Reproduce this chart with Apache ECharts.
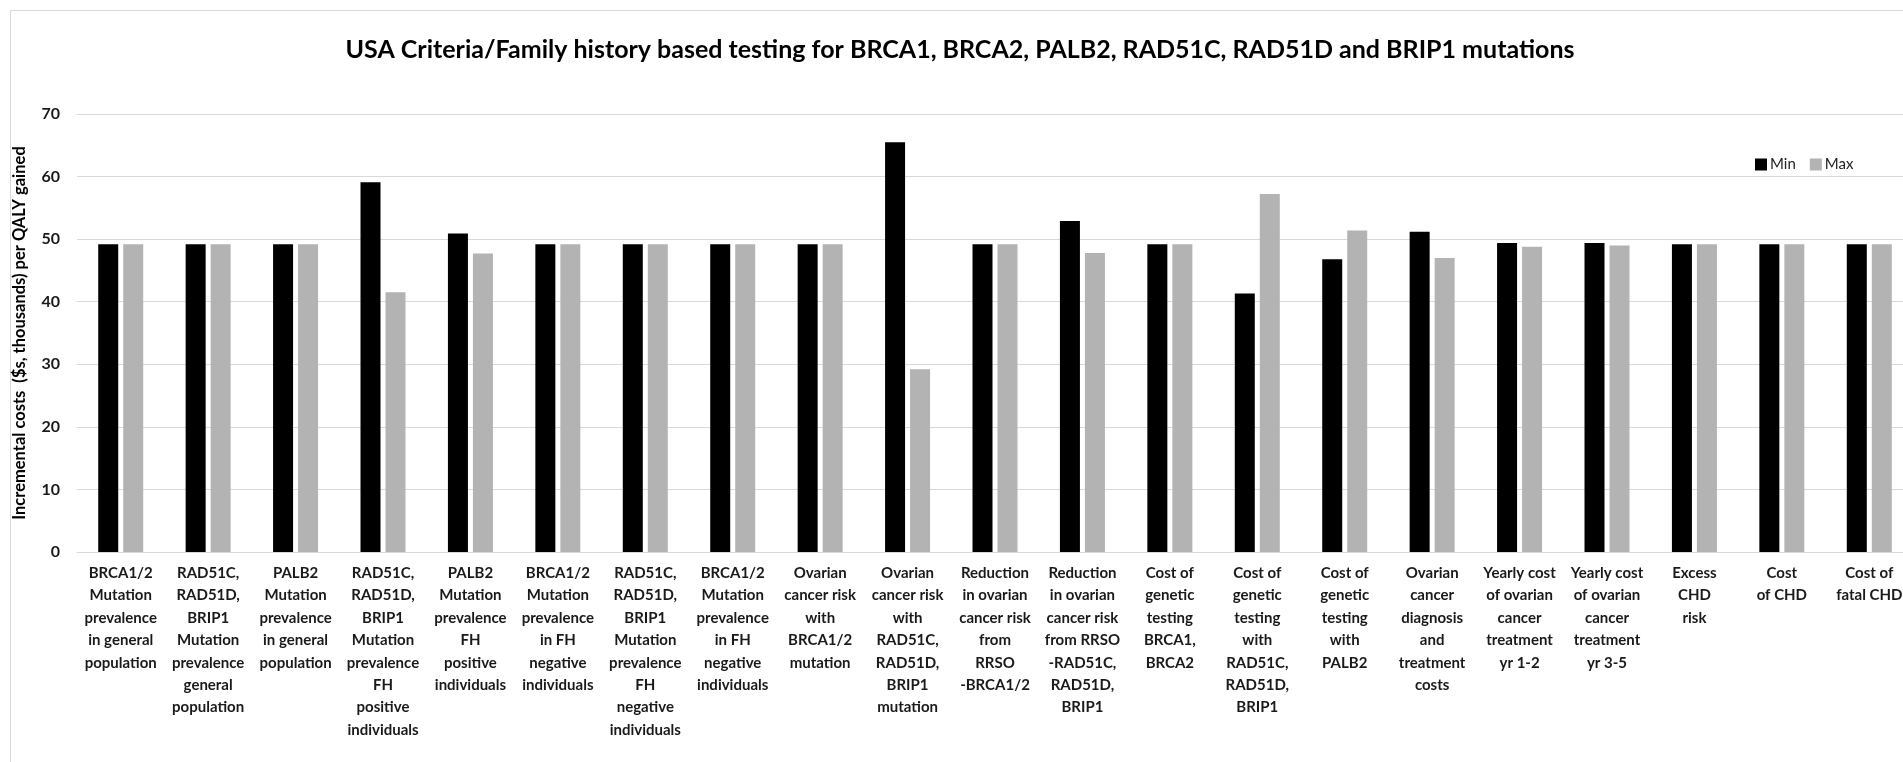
<!DOCTYPE html>
<html>
<head>
<meta charset="utf-8">
<script src="https://cdn.jsdelivr.net/npm/echarts@6/dist/echarts.min.js"></script>
<style>
  html, body { margin: 0; padding: 0; overflow: hidden; background: #fff; }
  #chart { width: 1930px; height: 762px; }
</style>
</head>
<body>
<div id="chart"></div>
<script>
// categories (line breaks as in the original chart)
var categories = [
  'BRCA1/2\nMutation\nprevalence\nin general\npopulation',
  'RAD51C,\nRAD51D,\nBRIP1\nMutation\nprevalence\ngeneral\npopulation',
  'PALB2\nMutation\nprevalence\nin general\npopulation',
  'RAD51C,\nRAD51D,\nBRIP1\nMutation\nprevalence\nFH\npositive\nindividuals',
  'PALB2\nMutation\nprevalence\nFH\npositive\nindividuals',
  'BRCA1/2\nMutation\nprevalence\nin FH\nnegative\nindividuals',
  'RAD51C,\nRAD51D,\nBRIP1\nMutation\nprevalence\nFH\nnegative\nindividuals',
  'BRCA1/2\nMutation\nprevalence\nin FH\nnegative\nindividuals',
  'Ovarian\ncancer risk\nwith\nBRCA1/2\nmutation',
  'Ovarian\ncancer risk\nwith\nRAD51C,\nRAD51D,\nBRIP1\nmutation',
  'Reduction\nin ovarian\ncancer risk\nfrom\nRRSO\n-BRCA1/2',
  'Reduction\nin ovarian\ncancer risk\nfrom RRSO\n-RAD51C,\nRAD51D,\nBRIP1',
  'Cost of\ngenetic\ntesting\nBRCA1,\nBRCA2',
  'Cost of\ngenetic\ntesting\nwith\nRAD51C,\nRAD51D,\nBRIP1',
  'Cost of\ngenetic\ntesting\nwith\nPALB2',
  'Ovarian\ncancer\ndiagnosis\nand\ntreatment\ncosts',
  'Yearly cost\nof ovarian\ncancer\ntreatment\nyr 1-2',
  'Yearly cost\nof ovarian\ncancer\ntreatment\nyr 3-5',
  'Excess\nCHD\nrisk',
  'Cost\nof CHD',
  'Cost of\nfatal CHD'
];

// values ($s, thousands)
var minValues = [49.2, 49.2, 49.2, 59.1, 50.9, 49.2, 49.2, 49.2, 49.2, 65.5, 49.2,
                 52.9, 49.2, 41.3, 46.8, 51.2, 49.4, 49.4, 49.2, 49.2, 49.2];
var maxValues = [49.2, 49.2, 49.2, 41.5, 47.7, 49.2, 49.2, 49.2, 49.2, 29.2, 49.2,
                 47.8, 49.2, 57.2, 51.4, 47.0, 48.8, 49.0, 49.2, 49.2, 49.2];

var yTicks = [0, 10, 20, 30, 40, 50, 60, 70];

var font = 'Lato, "Open Sans", sans-serif';

var myChart = echarts.init(document.getElementById('chart'));

var option = {
  backgroundColor: '#fff',
  animation: false,
  title: {
    text: 'USA Criteria/Family history based testing for BRCA1, BRCA2, PALB2, RAD51C, RAD51D and BRIP1 mutations',
    left: 955,
    textAlign: 'center',
    top: 32,
    textStyle: { fontFamily: font, fontWeight: 'bold', fontSize: 25, color: '#000' }
  },
  legend: {
    left: 1750,
    top: 152,
    itemWidth: 12,
    itemHeight: 12,
    itemGap: 14,
    icon: 'rect',
    textStyle: { fontFamily: font, fontSize: 15, color: '#222', padding: [0, 0, 0, -2] },
    data: ['Min', 'Max']
  },
  graphic: [{
    type: 'rect',
    silent: true,
    z: -10,
    shape: { x: 10.5, y: 10.5, width: 2000, height: 800 },
    style: { fill: 'none', stroke: '#d9d9d9', lineWidth: 1 }
  }],
  grid: { left: 77, right: 17, top: 114, bottom: 210 },
  xAxis: {
    type: 'category',
    data: categories,
    axisTick: { show: false },
    axisLine: { lineStyle: { color: '#d9d9d9', width: 1 } },
    axisLabel: {
      interval: 0,
      margin: 10,
      fontFamily: font,
      fontWeight: 'bold',
      fontSize: 15,
      lineHeight: 22.4,
      color: '#1a1a1a',
      align: 'center'
    }
  },
  yAxis: {
    type: 'value',
    min: yTicks[0],
    max: yTicks[yTicks.length - 1],
    interval: 10,
    name: 'Incremental costs  ($s, thousands) per QALY gained',
    nameLocation: 'middle',
    nameGap: 49,
    nameTextStyle: { fontFamily: font, fontWeight: 'bold', fontSize: 16.5, color: '#000' },
    axisLine: { show: false },
    axisTick: { show: false },
    axisLabel: { margin: 17, fontFamily: font, fontWeight: 'bold', fontSize: 16, color: '#1a1a1a' },
    splitLine: { lineStyle: { color: '#d9d9d9', width: 1 } }
  },
  series: [
    {
      name: 'Min',
      type: 'bar',
      data: minValues,
      barWidth: 20,
      barGap: '25%',
      itemStyle: { color: '#000' }
    },
    {
      name: 'Max',
      type: 'bar',
      data: maxValues,
      barWidth: 20,
      itemStyle: { color: '#b3b3b3' }
    }
  ]
};

myChart.setOption(option);
</script>
</body>
</html>
